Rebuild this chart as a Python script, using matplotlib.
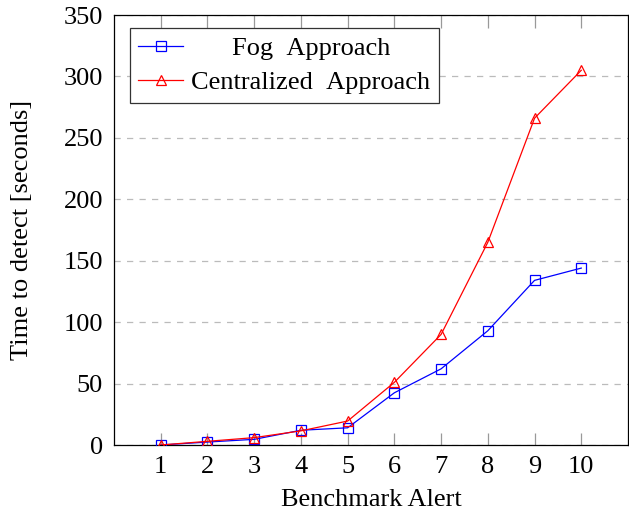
import matplotlib.pyplot as plt

# Données
alertes = [1, 2, 3, 4, 5, 6, 7, 8, 9, 10]
fog = [0, 2.4, 4.6, 12, 14, 42.5, 62, 93, 134, 144]
centralise = [0, 3, 6, 11.5, 19.5, 51, 90, 165, 266, 305]

plt.rcParams['font.family'] = ['Liberation Serif', 'DejaVu Serif']
taille = 19

fig = plt.figure(figsize=(6.29, 5.16), dpi=100)
ax = fig.add_axes([114 / 629, 1 - 445 / 516, (628 - 114) / 629, (445 - 15) / 516])

ax.plot(alertes, fog, color='blue', lw=0.9, marker='s', markersize=7.5,
        markerfacecolor='none', markeredgecolor='blue', markeredgewidth=0.9,
        label='Fog\u2002Approach', zorder=3)
ax.plot(alertes, centralise, color='red', lw=0.9, marker='^', markersize=7,
        markerfacecolor='none', markeredgecolor='red', markeredgewidth=0.9,
        label='Centralized\u2002Approach', zorder=3)

ax.set_xlim(0, 11)
ax.set_ylim(0, 350)
ax.set_xticks(alertes)
ax.set_yticks(range(0, 351, 50))
ax.yaxis.grid(True, linestyle=(0, (5, 5)), color='#bbbbbb', lw=0.9)
ax.set_axisbelow(True)

ax.tick_params(axis='x', direction='in', length=9, color='#999999', width=0.9,
               top=True, labelsize=taille, pad=8)
ax.tick_params(axis='y', direction='in', length=0, labelsize=taille, pad=8)
for s in ax.spines.values():
    s.set_linewidth(0.9)

ax.set_xlabel('Benchmark Alert', fontsize=taille, labelpad=8)
ax.set_ylabel('Time to detect [seconds]', fontsize=taille, labelpad=22)

leg = ax.legend(loc='upper left', fontsize=taille, fancybox=False, framealpha=1,
                edgecolor='#333333', bbox_to_anchor=(16 / 514, 1 - 13 / 430),
                borderaxespad=0, handlelength=1.7, handletextpad=0.3,
                borderpad=0.32, labelspacing=0.42)
leg.get_frame().set_linewidth(0.9)

# Centrer "Fog Approach" dans la légende
fig.canvas.draw()
textes = leg.get_texts()
largeurs = [t.get_window_extent().width for t in textes]
for t, w in zip(textes, largeurs):
    t.set_x((max(largeurs) - w) / 2)

fig.savefig('out.png', dpi=100)
